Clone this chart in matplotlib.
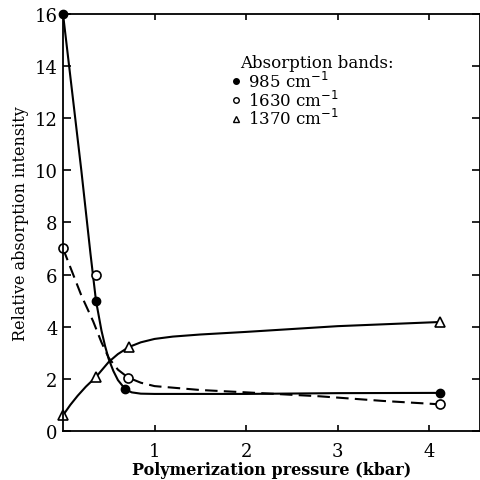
"""
Relative absorption intensity vs polymerization pressure.
"""
import matplotlib
matplotlib.use('Agg')
import matplotlib.pyplot as plt

# Measured points (markers)
p_985 = [0.0, 0.36, 0.68, 4.12]
i_985 = [16.0, 5.0, 1.6, 1.46]
p_1630 = [0.0, 0.36, 0.71, 4.12]
i_1630 = [7.0, 6.0, 2.05, 1.02]
p_1370 = [0.0, 0.36, 0.72, 4.12]
i_1370 = [0.6, 2.07, 3.22, 4.18]

# Hand-drawn curves
cx_985 = [0.0, 0.1, 0.2, 0.3, 0.36, 0.42, 0.46, 0.5, 0.55, 0.6, 0.68, 0.75, 0.85, 1.0, 2.0, 3.0, 4.12]
cy_985 = [16.0, 13.0, 10.0, 6.8, 5.0, 3.85, 3.25, 2.75, 2.3, 1.95, 1.6, 1.48, 1.43, 1.42, 1.42, 1.45, 1.46]
cx_1630 = [0.0, 0.1, 0.2, 0.33, 0.42, 0.5, 0.6, 0.71, 0.85, 1.0, 1.5, 2.0, 2.8, 3.5, 4.12]
cy_1630 = [7.0, 6.1, 5.2, 4.2, 3.4, 2.8, 2.35, 2.05, 1.85, 1.72, 1.57, 1.48, 1.33, 1.15, 1.02]
cx_1370 = [0.0, 0.08, 0.16, 0.25, 0.36, 0.5, 0.6, 0.72, 0.85, 1.0, 1.2, 1.5, 2.0, 3.0, 4.12]
cy_1370 = [0.6, 1.0, 1.35, 1.7, 2.07, 2.65, 2.95, 3.22, 3.4, 3.53, 3.62, 3.7, 3.8, 4.02, 4.18]

x_ticks = [1, 2, 3, 4]
y_ticks = [0, 2, 4, 6, 8, 10, 12, 14, 16]

plt.rcParams['font.family'] = 'DejaVu Serif'

fig = plt.figure(figsize=(4.81, 4.81), dpi=100)
ax = fig.add_axes([0.131, 0.102, 0.866, 0.867])

lw = 1.5
ax.plot(cx_985, cy_985, '-', color='black', lw=lw)
ax.plot(cx_1630, cy_1630, '--', color='black', lw=lw, dashes=(6, 3))
ax.plot(cx_1370, cy_1370, '-', color='black', lw=lw)

ax.plot(p_985, i_985, 'o', color='black', ms=6, mfc='black', clip_on=False)
ax.plot(p_1630, i_1630, 'o', color='black', ms=6.5, mfc='white', mew=1.2, clip_on=False)
ax.plot(p_1370, i_1370, '^', color='black', ms=6.5, mfc='white', mew=1.2, clip_on=False)

ax.set_xlim(0, 4.55)
ax.set_ylim(0, 16)
ax.set_xticks(x_ticks)
ax.set_yticks(y_ticks)
ax.tick_params(direction='in', top=True, right=True, length=6, width=1.2,
               labelsize=13, pad=4)
ax.tick_params(axis='x', length=4, pad=8)
for s in ax.spines.values():
    s.set_linewidth(1.3)

ax.set_xlabel('Polymerization pressure (kbar)', fontsize=11.5, fontweight='bold', labelpad=1)
ax.set_ylabel('Relative absorption intensity', fontsize=11.5, labelpad=4)

ax.text(0.425, 0.873, 'Absorption bands:', transform=ax.transAxes, fontsize=12)
legend_items = [('o', 'black', '985 cm$^{-1}$'),
                ('o', 'white', '1630 cm$^{-1}$'),
                ('^', 'white', '1370 cm$^{-1}$')]
for k, (m, fc, lab) in enumerate(legend_items):
    yy = 0.825 - k * 0.045
    ax.plot([0.415], [yy + 0.013], m, color='black', mfc=fc, ms=4, mew=1,
            transform=ax.transAxes)
    ax.text(0.444, yy, lab, transform=ax.transAxes, fontsize=12)

plt.savefig('out.png', dpi=100)
